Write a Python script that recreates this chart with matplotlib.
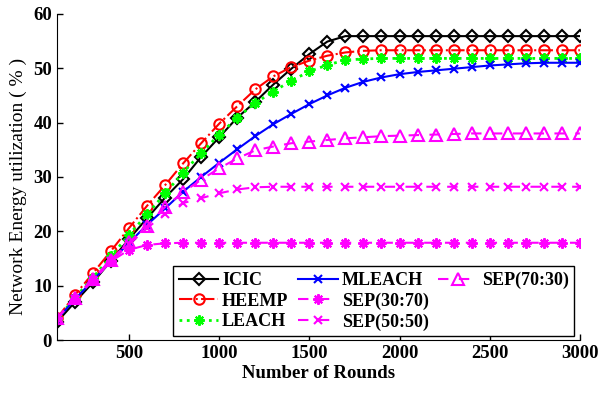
import numpy as np
import matplotlib
matplotlib.use("Agg")
import matplotlib.pyplot as plt
from matplotlib.lines import Line2D

rounds = np.arange(100, 3001, 100)

icic = [3.3, 7.0, 10.6, 14.6, 18.6, 22.4, 26.2, 29.6, 33.7, 37.3, 40.9, 43.8,
        47.0, 49.9, 52.6, 54.9, 55.9, 55.9, 55.9, 55.9, 55.9, 55.9, 55.9, 55.9,
        55.9, 55.9, 55.9, 55.9, 55.9, 55.9]
heemp = [4.0, 8.3, 12.3, 16.4, 20.6, 24.7, 28.5, 32.5, 36.2, 39.8, 43.0, 46.1,
         48.5, 50.2, 51.4, 52.3, 52.9, 53.2, 53.3, 53.3, 53.3, 53.3, 53.3, 53.3,
         53.3, 53.3, 53.3, 53.3, 53.3, 53.3]
leach = [3.8, 7.8, 11.5, 15.4, 19.4, 23.1, 27.0, 30.8, 34.4, 37.8, 40.9, 43.6,
         45.7, 47.7, 49.4, 50.6, 51.5, 51.7, 51.8, 51.8, 51.8, 51.8, 51.8, 51.8,
         51.8, 51.8, 51.8, 51.8, 51.8, 51.8]
mleach = [3.8, 7.5, 11.0, 14.5, 17.9, 21.2, 24.2, 27.3, 30.0, 32.6, 35.1, 37.5,
          39.7, 41.6, 43.4, 45.0, 46.4, 47.5, 48.3, 48.9, 49.3, 49.6, 49.9, 50.2,
          50.5, 50.7, 50.9, 51.0, 51.0, 51.0]
sep_30_70 = [4.0, 7.6, 11.0, 14.5, 16.6, 17.5, 17.8, 17.9, 17.9, 17.9, 17.9, 17.9,
             17.9, 17.9, 17.9, 17.9, 17.9, 17.9, 17.9, 17.9, 17.9, 17.9, 17.9, 17.9,
             17.9, 17.9, 17.9, 17.9, 17.9, 17.9]
sep_50_50 = [4.0, 7.6, 11.0, 14.5, 17.6, 20.6, 23.2, 25.2, 26.1, 27.0, 27.7, 28.1,
             28.2, 28.2, 28.2, 28.2, 28.2, 28.2, 28.2, 28.2, 28.2, 28.2, 28.2, 28.2,
             28.2, 28.2, 28.2, 28.2, 28.2, 28.2]
sep_70_30 = [4.0, 7.8, 11.3, 14.8, 18.0, 21.0, 24.5, 27.2, 29.5, 31.6, 33.4, 34.9,
             35.6, 36.2, 36.5, 36.8, 37.1, 37.3, 37.5, 37.6, 37.7, 37.8, 37.9, 38.0,
             38.0, 38.0, 38.0, 38.0, 38.0, 38.0]

plt.rcParams["font.family"] = ["Liberation Serif", "DejaVu Serif"]

fig = plt.figure(figsize=(5.99, 3.95), dpi=100)
ax = fig.add_axes([0.095, 0.139, 0.873, 0.826])

ast = (8, 2, 0)
lw = 1.5
dash = (0, (5, 5))
ax.plot(rounds, icic, color="black", ls="-", marker="D", ms=6.5, mfc="none", mew=1.5, lw=lw, label="ICIC")
ax.plot(rounds, heemp, color="red", ls="-.", marker="o", ms=7.5, mfc="none", mew=1.5, lw=lw, label="HEEMP")
ax.plot(rounds, leach, color=(0, 1, 0), ls=":", marker=ast, ms=7.5, mew=1.5, lw=2, label="LEACH")
ax.plot(rounds, mleach, color="blue", ls="-", marker="x", ms=5.5, mew=1.5, lw=lw, label="MLEACH")
ax.plot(rounds, sep_30_70, color="magenta", ls=dash, marker=ast, ms=7.5, mew=1.5, lw=lw, label="SEP(30:70)")
ax.plot(rounds, sep_50_50, color="magenta", ls=dash, marker="x", ms=5.5, mew=1.5, lw=lw, label="SEP(50:50)")
ax.plot(rounds, sep_70_30, color="magenta", ls=dash, marker="^", ms=8.5, mfc="none", mew=1.5, lw=lw, label="SEP(70:30)")

ax.set_xlim(100, 3000)
ax.set_ylim(0, 60)
ax.set_xticks([500, 1000, 1500, 2000, 2500, 3000])
ax.set_yticks(range(0, 61, 10))
ax.tick_params(direction="in", labelsize=13.5, width=1, length=4)
for lab in ax.get_xticklabels() + ax.get_yticklabels():
    lab.set_fontweight("bold")
ax.spines["top"].set_visible(False)
ax.spines["right"].set_visible(False)
ax.set_xlabel("Number of Rounds", fontsize=13.5, fontweight="bold", labelpad=2)
ax.set_ylabel("Network Energy utilization ( % )", fontsize=14)
ax.yaxis.set_label_coords(-0.057, 0.47)

# blank 8th entry so the columns fill 3 / 3 / 1 like the original
handles, labels = ax.get_legend_handles_labels()
handles.append(Line2D([], [], ls="none"))
labels.append("")
leg = ax.legend(handles, labels, ncol=3, loc="lower right", bbox_to_anchor=(0.989, 0.012),
                fancybox=False, edgecolor="black", framealpha=1,
                prop={"size": 13, "weight": "bold"}, handlelength=2.2,
                columnspacing=0.55, handletextpad=0.2, labelspacing=0.2,
                borderpad=0.3, borderaxespad=0)
leg.get_frame().set_linewidth(1.0)

fig.savefig("out.png", dpi=100)
